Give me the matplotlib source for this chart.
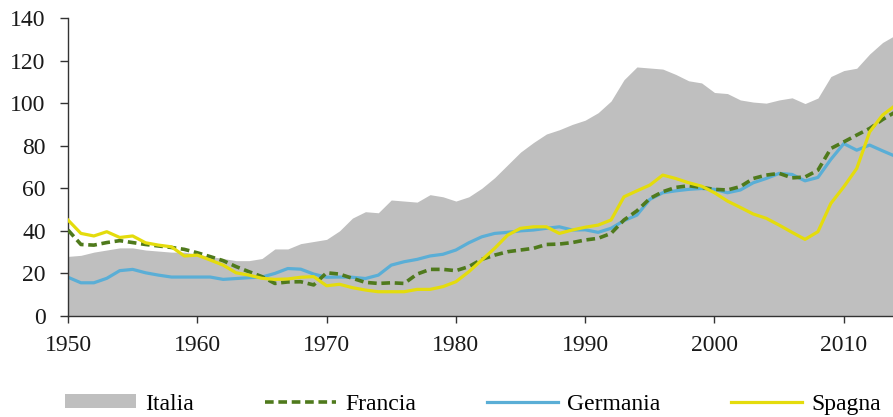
import matplotlib
matplotlib.use("Agg")
import matplotlib.pyplot as plt
from matplotlib.patches import Patch
from matplotlib.lines import Line2D
import numpy as np

years = list(range(1950, 2015))

italia = [28, 28.5, 30, 31, 32, 32, 31, 30.5, 30, 30,
          29, 28, 27, 26, 26, 27, 31.5, 31.5, 34, 35,
          36, 40, 46, 49, 48.5, 54.5, 54, 53.5, 57, 56,
          54, 56, 60, 65, 71, 77, 81.5, 85.5, 87.5, 90,
          92, 95.5, 101, 111, 117, 116.5, 116, 113.5, 110.5, 109.5,
          105, 104.5, 101.5, 100.5, 100, 101.5, 102.5, 99.8, 102.4, 112.5,
          115.3, 116.4, 123.1, 128.5, 132]

francia = [40.4, 33.6, 33.3, 34.5, 35.4, 34.5, 33.6, 32.9, 32.2, 31.3,
           29.7, 27.9, 26, 23.2, 20.8, 18.5, 15.3, 16.0, 16.1, 14.6,
           20.3, 19.7, 17.7, 15.8, 15.3, 15.6, 15.3, 19.7, 21.9, 21.9,
           21.3, 23.2, 26.6, 28.6, 30.2, 31, 31.8, 33.6, 33.8, 34.5,
           35.7, 36.5, 38.8, 45.1, 49.4, 55.2, 58.4, 60.4, 61.2, 60.4,
           59.5, 59.2, 60.8, 64.6, 66.2, 67, 64.9, 65.3, 68.5, 78.7,
           81.8, 85, 88.1, 92.3, 95.9]

germania = [18.2, 15.6, 15.6, 17.7, 21.3, 21.9, 20.3, 19.2, 18.3, 18.3,
            18.3, 18.3, 17.2, 17.6, 18, 18.3, 20, 22.3, 22, 19.7,
            18.2, 18.3, 18.2, 17.6, 19.2, 23.9, 25.5, 26.6, 28.2, 29,
            31, 34.4, 37.2, 38.8, 39.3, 40, 40.4, 41.2, 41.9, 40.4,
            40.5, 39.3, 41.2, 44.8, 47.4, 54.8, 57.9, 58.8, 59.5, 59.9,
            59.5, 57.9, 59.2, 62.6, 64.6, 67, 66.5, 63.5, 65.1, 73.6,
            81, 77.9, 80.3, 77.6, 75]

spagna = [45.1, 38.8, 37.6, 39.6, 36.9, 37.6, 34.4, 33.3, 32.5, 28.2,
          28.6, 26.3, 23.9, 20.3, 19.2, 17.7, 17.2, 17.4, 18.2, 18.5,
          14.2, 14.9, 13.3, 12.2, 11.4, 11.4, 11.4, 12.5, 12.5, 13.8,
          16.1, 20.8, 26.3, 31.8, 38, 41.2, 41.9, 41.9, 38.8, 40.4,
          41.7, 42.7, 45.1, 56, 58.8, 61.5, 66.2, 64.6, 62.6, 61,
          57.9, 54, 51, 47.9, 45.9, 42.7, 39.3, 36, 39.6, 52.9,
          60.7, 69.3, 86.5, 94.4, 99]

x_ticks = [1950, 1960, 1970, 1980, 1990, 2000, 2010]
y_ticks = [0, 20, 40, 60, 80, 100, 120, 140]
labels = ["Italia", "Francia", "Germania", "Spagna"]

c_it = "#bfbfbf"
c_fr = "#4f7a1c"
c_de = "#5aaed6"
c_es = "#e4dc0c"

plt.rcParams["font.family"] = ["Liberation Serif", "DejaVu Serif"]
fs = 17

W, H = 893, 417
fig = plt.figure(figsize=(W / 100, H / 100), dpi=100)
x0 = 68
ppy = 12.93
ax = fig.add_axes([x0 / W, (H - 316) / H, 1 - x0 / W, (316 - 18) / H])

fr_dash = (2.4, 1.3)
fr_lw = 2.6

ax.fill_between(years, 0, italia, color=c_it, linewidth=0, zorder=1)
ax.plot(years, francia, color=c_fr, lw=fr_lw, dashes=fr_dash, zorder=3)
ax.plot(years, germania, color=c_de, lw=2.3, zorder=2)
ax.plot(years, spagna, color=c_es, lw=2.3, zorder=4)

ax.set_xlim(1950, 1950 + (W - x0) / ppy)
ax.set_ylim(0, 140)
ax.set_xticks(x_ticks)
ax.set_yticks(y_ticks)
for s in ["top", "right"]:
    ax.spines[s].set_visible(False)
for s in ["left", "bottom"]:
    ax.spines[s].set_color("#333333")
    ax.spines[s].set_linewidth(1.0)
ax.tick_params(axis="x", direction="out", length=5, width=1, color="#333333",
               labelsize=fs, pad=9, labelcolor="#1a1a1a")
ax.tick_params(axis="y", direction="out", length=6, width=1, color="#333333",
               labelsize=fs, pad=10, labelcolor="#1a1a1a")

handles = [Patch(facecolor=c_it, edgecolor="none"),
           Line2D([], [], color=c_fr, lw=fr_lw, dashes=fr_dash),
           Line2D([], [], color=c_de, lw=2.3),
           Line2D([], [], color=c_es, lw=2.3)]
fig.legend(handles, labels, loc="center", bbox_to_anchor=(0.530, 0.031),
           ncol=4, frameon=False, fontsize=fs, handlelength=3.0,
           handleheight=0.55, handletextpad=0.4, columnspacing=3.0,
           borderpad=0, borderaxespad=0)

fig.savefig("out.png", dpi=100)
